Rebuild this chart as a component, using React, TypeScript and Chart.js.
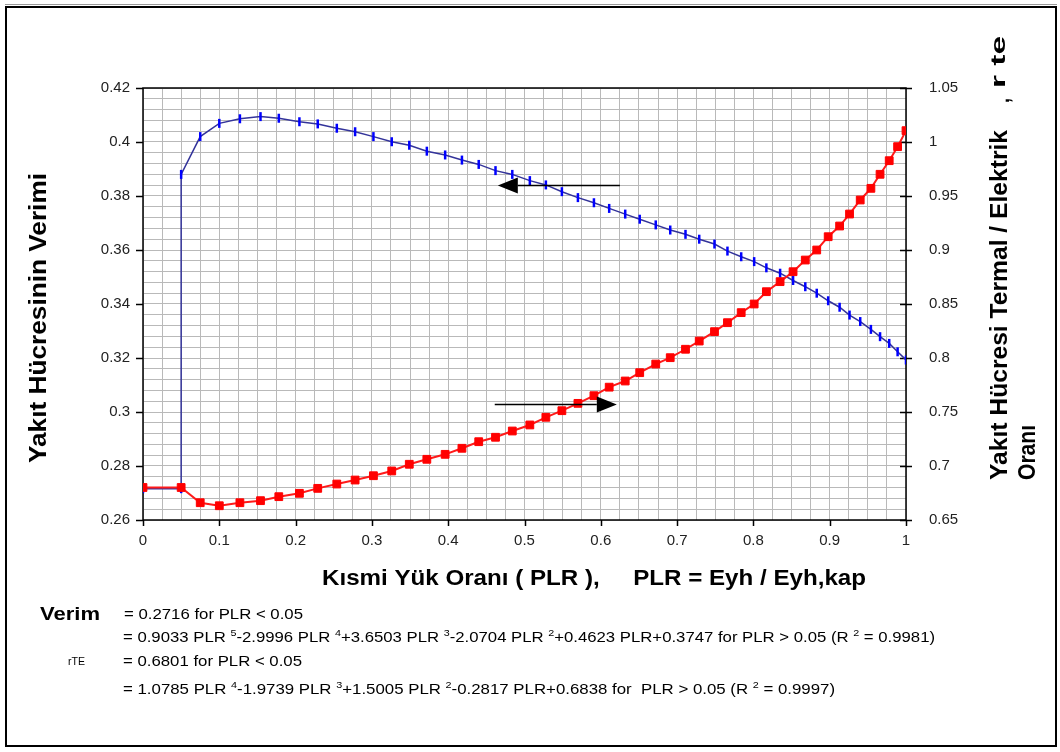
import React, { useEffect, useRef } from 'react';
import { Chart, registerables } from 'chart.js';

Chart.register(...registerables);

// ---------------- data ----------------
const PLR = [
  0, 0.05, 0.075, 0.1, 0.127, 0.154, 0.178, 0.205, 0.229, 0.254,
  0.278, 0.302, 0.326, 0.349, 0.372, 0.396, 0.418, 0.44, 0.462, 0.484,
  0.507, 0.528, 0.549, 0.57, 0.591, 0.611, 0.632, 0.651, 0.672, 0.691,
  0.711, 0.729, 0.749, 0.766, 0.784, 0.801, 0.817, 0.835, 0.852, 0.868,
  0.883, 0.898, 0.913, 0.926, 0.94, 0.954, 0.966, 0.978, 0.989, 1.0,
];

// Yakıt hücresinin verimi (left axis)
const VERIM = [
  0.2716, 0.388, 0.402, 0.4069, 0.4086, 0.4094, 0.4088, 0.4075, 0.4067, 0.4051,
  0.4038, 0.402, 0.4001, 0.3988, 0.3966, 0.3952, 0.3933, 0.3917, 0.3894, 0.388,
  0.3857, 0.3841, 0.3816, 0.3794, 0.3775, 0.3754, 0.3733, 0.3714, 0.3693, 0.3674,
  0.3658, 0.364, 0.3622, 0.3596, 0.3575, 0.3557, 0.3534, 0.3514, 0.3487, 0.3464,
  0.344, 0.3412, 0.3388, 0.3359, 0.3335, 0.3306, 0.3279, 0.3254, 0.3223, 0.3193,
];

// Termal / elektrik oranı rte (right axis)
const RTE = [
  0.6801, 0.6801, 0.666, 0.6632, 0.666, 0.6679, 0.6716, 0.6747, 0.6793, 0.6833,
  0.687, 0.691, 0.6954, 0.7016, 0.7062, 0.7108, 0.7164, 0.7225, 0.7266, 0.7324,
  0.738, 0.7451, 0.7512, 0.758, 0.7651, 0.773, 0.7787, 0.7864, 0.7944, 0.8003,
  0.8081, 0.8157, 0.8244, 0.8327, 0.842, 0.85, 0.8614, 0.8707, 0.8799, 0.8907,
  0.9, 0.9123, 0.9222, 0.9333, 0.9463, 0.9571, 0.9701, 0.9827, 0.9957, 1.0105,
];

// axis ranges and tick steps
const X_RANGE = [0, 1];
const Y_LEFT_RANGE = [0.26, 0.42];
const Y_RIGHT_RANGE = [0.65, 1.05];
const X_LABEL_STEP = 0.1;
const Y_LEFT_LABEL_STEP = 0.02;
const Y_RIGHT_LABEL_STEP = 0.05;

// arrows (data coordinates)
const ARROW_TO_LEFT = { from: 0.625, to: 0.465, y: 0.3841 };
const ARROW_TO_RIGHT = { from: 0.461, to: 0.621, y: 0.7574 };

// texts
const Y_LEFT_TITLE = 'Yakıt Hücresinin Verimi';
const Y_RIGHT_TITLE_1 = 'Yakıt Hücresi Termal / Elektrik';
const Y_RIGHT_TITLE_COMMA = ',';
const Y_RIGHT_TITLE_1B = 'r te';
const Y_RIGHT_TITLE_2 = 'Oranı';
const X_TITLE = 'Kısmi Yük Oranı ( PLR ),     PLR = Eyh / Eyh,kap';
const VERIM_LABEL = 'Verim';
const VERIM_EQ_LOW = '= 0.2716 for PLR < 0.05';
const VERIM_EQ_HIGH: [string, boolean][] = [
  ['= 0.9033 PLR ', false], ['5', true], ['-2.9996 PLR ', false], ['4', true],
  ['+3.6503 PLR ', false], ['3', true], ['-2.0704 PLR ', false], ['2', true],
  ['+0.4623 PLR+0.3747 for PLR > 0.05 (R ', false], ['2', true], [' = 0.9981)', false],
];
const RTE_LABEL = 'rTE';
const RTE_EQ_LOW = '= 0.6801 for PLR < 0.05';
const RTE_EQ_HIGH: [string, boolean][] = [
  ['= 1.0785 PLR ', false], ['4', true], ['-1.9739 PLR ', false], ['3', true],
  ['+1.5005 PLR ', false], ['2', true], ['-0.2817 PLR+0.6838 for  PLR > 0.05 (R ', false],
  ['2', true], [' = 0.9997)', false],
];

const FONT = '"Liberation Sans", Arial, sans-serif';

type Seg = [string, boolean];

function drawFit(
  ctx: CanvasRenderingContext2D,
  segs: Seg[],
  opts: { x: number; y: number; width: number; size: number; bold?: boolean; rotate?: boolean; baseline?: CanvasTextBaseline; color?: string }
) {
  const weight = opts.bold ? 'bold' : 'normal';
  const fontFor = (sup: boolean) => `${weight} ${sup ? Math.round(opts.size * 0.62) : opts.size}px ${FONT}`;
  const widths: number[] = [];
  let total = 0;
  for (const [t, sup] of segs) {
    ctx.font = fontFor(sup);
    const w = ctx.measureText(t).width;
    widths.push(w);
    total += w;
  }
  ctx.save();
  ctx.translate(opts.x, opts.y);
  if (opts.rotate) ctx.rotate(-Math.PI / 2);
  ctx.scale(opts.width / total, 1);
  ctx.fillStyle = opts.color || '#000';
  ctx.textBaseline = opts.baseline || 'alphabetic';
  ctx.textAlign = 'left';
  let cx = 0;
  segs.forEach(([t, sup], i) => {
    ctx.font = fontFor(sup);
    ctx.fillText(t, cx, sup ? -opts.size * 0.42 : 0);
    cx += widths[i];
  });
  ctx.restore();
}

function multipleOf(v: number, step: number) {
  const r = v / step;
  return Math.abs(r - Math.round(r)) < 1e-6;
}

const decorPlugin = {
  id: 'decor',
  beforeDraw(chart: any) {
    const ctx = chart.ctx as CanvasRenderingContext2D;
    ctx.save();
    ctx.fillStyle = '#fff';
    ctx.fillRect(0, 0, chart.width, chart.height);
    ctx.strokeStyle = '#9a9a9a';
    ctx.lineWidth = 1;
    ctx.beginPath();
    ctx.moveTo(5, 4.5);
    ctx.lineTo(1057, 4.5);
    ctx.stroke();
    ctx.strokeStyle = '#000';
    ctx.lineWidth = 2;
    ctx.strokeRect(6, 7, 1050, 739);
    ctx.restore();
  },
  beforeDatasetsDraw(chart: any) {
    const ctx = chart.ctx as CanvasRenderingContext2D;
    const { left, right, top, bottom } = chart.chartArea;
    const xs = chart.scales.x;
    const yl = chart.scales.y;
    const yr = chart.scales.y2;
    ctx.save();
    ctx.strokeStyle = '#000';
    ctx.lineWidth = 1.5;
    ctx.strokeRect(left, top, right - left, bottom - top);
    ctx.lineWidth = 1.5;
    ctx.beginPath();
    for (let v = X_RANGE[0]; v <= X_RANGE[1] + 1e-9; v += X_LABEL_STEP) {
      const px = Math.round(xs.getPixelForValue(v)) + 0.5;
      ctx.moveTo(px, bottom);
      ctx.lineTo(px, bottom + 6);
    }
    for (let v = Y_LEFT_RANGE[0]; v <= Y_LEFT_RANGE[1] + 1e-9; v += Y_LEFT_LABEL_STEP) {
      const py = Math.round(yl.getPixelForValue(v)) + 0.5;
      ctx.moveTo(left - 7, py);
      ctx.lineTo(left, py);
    }
    for (let v = Y_RIGHT_RANGE[0]; v <= Y_RIGHT_RANGE[1] + 1e-9; v += Y_RIGHT_LABEL_STEP) {
      const py = Math.round(yr.getPixelForValue(v)) + 0.5;
      ctx.moveTo(right - 6, py);
      ctx.lineTo(right + 6, py);
    }
    ctx.stroke();
    ctx.restore();
  },
  afterDatasetsDraw(chart: any) {
    const ctx = chart.ctx as CanvasRenderingContext2D;
    const xs = chart.scales.x;
    const yl = chart.scales.y;
    const yr = chart.scales.y2;
    ctx.save();
    ctx.strokeStyle = '#000';
    ctx.fillStyle = '#000';
    ctx.lineWidth = 1.5;
    const arrow = (x0: number, x1: number, y: number) => {
      const dir = Math.sign(x1 - x0);
      const head = 20;
      ctx.beginPath();
      ctx.moveTo(x0, y);
      ctx.lineTo(x1 - dir * head, y);
      ctx.stroke();
      ctx.beginPath();
      ctx.moveTo(x1, y);
      ctx.lineTo(x1 - dir * head, y - 8);
      ctx.lineTo(x1 - dir * head, y + 8);
      ctx.closePath();
      ctx.fill();
    };
    arrow(xs.getPixelForValue(ARROW_TO_LEFT.from), xs.getPixelForValue(ARROW_TO_LEFT.to), Math.round(yl.getPixelForValue(ARROW_TO_LEFT.y)) + 0.5);
    arrow(xs.getPixelForValue(ARROW_TO_RIGHT.from), xs.getPixelForValue(ARROW_TO_RIGHT.to), Math.round(yr.getPixelForValue(ARROW_TO_RIGHT.y)) + 0.5);
    ctx.restore();

    // titles
    drawFit(ctx, [[Y_LEFT_TITLE, false]], { x: 40, y: 463, width: 290, size: 23, bold: true, rotate: true, baseline: 'middle' });
    drawFit(ctx, [[Y_RIGHT_TITLE_1, false]], { x: 1000, y: 480, width: 350, size: 24, bold: true, rotate: true, baseline: 'middle' });
    drawFit(ctx, [[Y_RIGHT_TITLE_COMMA, false]], { x: 1003, y: 103, width: 5, size: 22, bold: true, rotate: true, baseline: 'middle' });
    drawFit(ctx, [[Y_RIGHT_TITLE_1B, false]], { x: 999, y: 88, width: 52, size: 21, bold: true, rotate: true, baseline: 'middle' });
    drawFit(ctx, [[Y_RIGHT_TITLE_2, false]], { x: 1028, y: 480, width: 55, size: 24, bold: true, rotate: true, baseline: 'middle' });
    drawFit(ctx, [[X_TITLE, false]], { x: 322, y: 585, width: 544, size: 22, bold: true });

    // equations
    drawFit(ctx, [[VERIM_LABEL, false]], { x: 40, y: 620, width: 60, size: 19, bold: true });
    drawFit(ctx, [[VERIM_EQ_LOW, false]], { x: 124, y: 619, width: 179, size: 14 });
    drawFit(ctx, VERIM_EQ_HIGH, { x: 123, y: 642, width: 812, size: 14 });
    drawFit(ctx, [[RTE_LABEL, false]], { x: 68, y: 665, width: 17, size: 10 });
    drawFit(ctx, [[RTE_EQ_LOW, false]], { x: 123, y: 666, width: 179, size: 14 });
    drawFit(ctx, RTE_EQ_HIGH, { x: 123, y: 694, width: 712, size: 14 });
  },
};

export default function App() {
  const ref = useRef<HTMLCanvasElement | null>(null);
  useEffect(() => {
    if (!ref.current) return;
    const blueData = [
      { x: PLR[0], y: VERIM[0] },
      { x: PLR[1], y: VERIM[0] },
      ...PLR.slice(1).map((x, i) => ({ x, y: VERIM[i + 1] })),
    ];
    const redData = PLR.map((x, i) => ({ x, y: RTE[i] }));
    const tickFont = { family: FONT, size: 15 };
    const chart = new Chart(ref.current, {
      type: 'scatter',
      data: {
        datasets: [
          {
            label: 'rte',
            data: redData,
            yAxisID: 'y2',
            showLine: true,
            borderColor: '#ff1a1a',
            borderWidth: 2,
            pointStyle: 'rect',
            pointRadius: 5.5,
            pointBackgroundColor: '#ff0000',
            pointBorderColor: '#ff0000',
            pointBorderWidth: 1,
            order: 0,
          },
          {
            label: 'Verim',
            data: blueData,
            yAxisID: 'y',
            showLine: true,
            borderColor: '#33339a',
            borderWidth: 1.5,
            pointStyle: 'line',
            rotation: 90,
            pointRadius: 4.5,
            pointBorderColor: '#0000ff',
            pointBorderWidth: 2.5,
            order: 1,
          },
        ],
      },
      options: {
        responsive: false,
        animation: false,
        layout: { padding: { top: 88, left: 0, right: 0, bottom: 0 } },
        plugins: { legend: { display: false }, tooltip: { enabled: false } },
        scales: {
          x: {
            type: 'linear',
            min: X_RANGE[0],
            max: X_RANGE[1],
            position: 'bottom',
            border: { display: false },
            grid: { color: '#b9b9b9', lineWidth: 1, drawTicks: false },
            ticks: {
              stepSize: 0.025,
              autoSkip: false,
              maxRotation: 0,
              padding: 12,
              color: '#222',
              font: tickFont,
              callback: (v: any) => (multipleOf(v, X_LABEL_STEP) ? String(Math.round(v * 10) / 10) : ''),
            },
            afterFit: (s: any) => { s.height = 232; },
          },
          y: {
            type: 'linear',
            position: 'left',
            min: Y_LEFT_RANGE[0],
            max: Y_LEFT_RANGE[1],
            border: { display: false },
            grid: { color: '#b9b9b9', lineWidth: 1, drawTicks: false },
            ticks: {
              stepSize: 0.004,
              autoSkip: false,
              padding: 13,
              color: '#222',
              font: tickFont,
              callback: (v: any) => (multipleOf(v, Y_LEFT_LABEL_STEP) ? String(Math.round(v * 100) / 100) : ''),
            },
            afterFit: (s: any) => { s.width = 143; },
          },
          y2: {
            type: 'linear',
            position: 'right',
            min: Y_RIGHT_RANGE[0],
            max: Y_RIGHT_RANGE[1],
            border: { display: false },
            grid: { display: false, drawOnChartArea: false },
            ticks: {
              stepSize: 0.01,
              autoSkip: false,
              padding: 15,
              color: '#222',
              font: tickFont,
              callback: (v: any) => (multipleOf(v, Y_RIGHT_LABEL_STEP) ? String(Math.round(v * 100) / 100) : ''),
            },
            afterFit: (s: any) => { s.width = 154; },
          },
        },
      },
      plugins: [decorPlugin],
    });
    return () => chart.destroy();
  }, []);
  return (
    <div style={{ position: 'fixed', left: 0, top: 0, width: 1060, height: 752, background: '#fff' }}>
      <canvas ref={ref} width={1060} height={752} style={{ width: 1060, height: 752, display: 'block' }} />
    </div>
  );
}
